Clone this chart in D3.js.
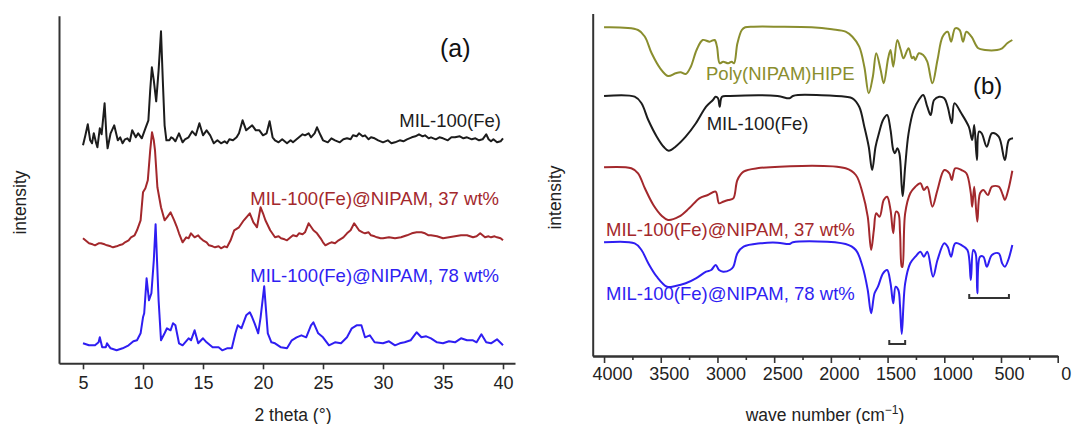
<!DOCTYPE html>
<html><head><meta charset="utf-8">
<script src="https://cdn.jsdelivr.net/npm/d3@7"></script>
<style>
html,body{margin:0;padding:0;background:#fff;}
svg{display:block;font-family:"Liberation Sans",Arial,Helvetica,sans-serif;}
</style></head><body>
<svg id="chart" width="1072" height="424"></svg>
<script>
// ---------- Panel (a): XRD ----------
const xrdTicks = [5, 10, 15, 20, 25, 30, 35, 40];
const xrdLabels = ["MIL-100(Fe)", "MIL-100(Fe)@NIPAM, 37 wt%", "MIL-100(Fe)@NIPAM, 78 wt%"];
const xrdMil = [[5.0,218],[5.2,228],[5.4,239],[5.6,223],[5.75,220],[5.9,230],[6.1,220],[6.2,216],[6.4,235],[6.55,229],[6.8,260],[6.95,228],[7.05,215],[7.3,230],[7.6,238],[7.9,223],[8.1,226],[8.3,220],[8.5,224],[8.7,225],[8.9,222],[9.1,233],[9.4,226],[9.6,230],[9.9,225],[10.2,235],[10.45,243],[10.6,273],[10.74,296],[10.9,283],[11.1,262],[11.3,293],[11.5,332],[11.65,283],[11.8,238],[11.95,223],[12.2,223],[12.35,226],[12.5,225],[12.7,222],[13.0,230],[13.3,221],[13.5,224],[13.8,226],[14.1,232],[14.4,228],[14.7,240],[15.0,228],[15.3,233],[15.6,228],[15.9,220],[16.2,223],[16.5,220],[16.8,222],[17.0,220],[17.2,224],[17.5,223],[17.8,226],[18.0,230],[18.3,243],[18.6,233],[18.9,236],[19.1,238],[19.4,233],[19.7,233],[20.0,228],[20.3,230],[20.55,242],[20.8,226],[21.0,223],[21.3,221],[21.6,224],[22.0,220],[22.3,223],[22.5,221],[22.8,224],[23.0,226],[23.3,229],[23.5,228],[23.8,230],[24.0,226],[24.3,230],[24.5,236],[24.8,228],[25.0,223],[25.4,221],[25.7,225],[26.0,223],[26.4,221],[26.7,224],[27.0,225],[27.3,224],[27.5,228],[27.8,227],[28.0,230],[28.3,227],[28.5,228],[28.8,224],[29.0,226],[29.3,225],[29.6,223],[30.0,221],[30.4,223],[30.7,220],[31.0,221],[31.4,223],[31.7,222],[32.0,224],[32.4,226],[32.7,227],[33.0,229],[33.3,227],[33.5,228],[33.8,225],[34.0,226],[34.4,224],[34.7,226],[35.0,225],[35.4,223],[35.7,226],[36.0,226],[36.4,227],[36.7,225],[37.0,226],[37.4,224],[37.7,225],[38.0,223],[38.3,224],[38.6,229],[38.8,224],[39.0,222],[39.2,224],[39.5,221],[39.8,222],[40.0,225]];
const xrdNipam37 = [[5.0,125],[5.3,122],[5.5,120],[5.8,119],[6.0,118],[6.3,120],[6.5,120],[6.8,119],[7.0,118],[7.3,117],[7.5,116],[7.8,117],[8.0,118],[8.3,119],[8.5,121],[8.8,123],[9.0,126],[9.3,128],[9.5,133],[9.8,143],[10.0,171],[10.2,175],[10.4,183],[10.6,213],[10.75,231],[10.9,223],[11.0,213],[11.2,176],[11.5,156],[11.8,143],[12.0,146],[12.3,151],[12.6,143],[12.8,137],[13.0,130],[13.3,121],[13.6,126],[13.8,125],[14.0,130],[14.3,126],[14.6,128],[14.8,125],[15.0,123],[15.3,121],[15.5,118],[15.8,117],[16.0,116],[16.3,117],[16.5,115],[16.8,117],[17.0,116],[17.3,123],[17.6,133],[18.0,136],[18.4,143],[18.9,150],[19.2,141],[19.5,136],[19.8,156],[20.0,150],[20.2,143],[20.6,133],[21.0,126],[21.3,127],[21.5,125],[21.8,124],[22.0,123],[22.3,126],[22.5,128],[22.8,127],[23.0,130],[23.3,129],[23.5,131],[23.8,140],[24.2,133],[24.5,130],[24.8,125],[25.0,121],[25.2,118],[25.5,120],[25.7,121],[26.0,120],[26.3,123],[26.7,126],[27.0,130],[27.3,133],[27.6,140],[28.0,133],[28.3,131],[28.5,130],[28.8,131],[29.0,128],[29.3,127],[29.5,126],[29.8,125],[30.0,125],[30.5,126],[31.0,125],[31.5,126],[32.0,128],[32.4,130],[32.8,131],[33.2,131],[33.5,130],[33.8,128],[34.0,128],[34.5,127],[35.0,125],[35.5,126],[36.0,127],[36.5,128],[37.0,128],[37.5,126],[37.8,127],[38.1,130],[38.5,126],[38.8,127],[39.0,126],[39.3,127],[39.5,126],[39.8,125],[40.0,123]];
const xrdNipam78 = [[5.0,20],[5.5,18],[6.0,18],[6.3,21],[6.4,26],[6.6,16],[6.9,16],[7.0,20],[7.3,15],[7.8,13],[8.3,15],[8.8,18],[9.2,22],[9.5,23],[9.8,30],[10.0,46],[10.1,50],[10.3,85],[10.5,63],[10.7,70],[10.9,103],[11.05,139],[11.3,63],[11.5,23],[11.8,30],[12.0,35],[12.3,33],[12.5,40],[12.7,38],[13.0,20],[13.3,18],[13.8,25],[14.0,23],[14.3,33],[14.6,20],[15.0,25],[15.3,21],[15.8,16],[16.3,16],[16.6,13],[17.0,15],[17.4,15],[17.7,30],[17.9,38],[18.2,35],[18.6,48],[18.9,51],[19.1,46],[19.3,40],[19.6,30],[19.8,46],[20.1,77],[20.4,30],[20.7,21],[21.0,20],[21.5,16],[22.0,15],[22.4,23],[22.8,26],[23.2,28],[23.6,26],[24.0,38],[24.2,41],[24.6,30],[25.0,26],[25.5,18],[26.0,21],[26.5,20],[27.0,26],[27.4,35],[27.8,38],[28.2,38],[28.5,26],[28.9,28],[29.3,21],[30.0,20],[30.5,22],[31.0,18],[31.4,20],[31.8,21],[32.3,23],[32.8,31],[33.2,26],[33.6,27],[34.0,25],[34.5,21],[35.0,20],[35.5,22],[36.0,21],[36.5,25],[37.0,23],[37.5,23],[37.8,21],[38.2,29],[38.6,21],[39.0,20],[39.5,24],[40.0,18]];

// ---------- Panel (b): FTIR ----------
const irMajorTicks = [4000, 3500, 3000, 2500, 2000, 1500, 1000, 500, 0];
const irMinorTicks = [3750, 3250, 2750, 2250, 1750, 1250, 750, 250];
const irLabels = ["Poly(NIPAM)HIPE", "MIL-100(Fe)", "MIL-100(Fe)@NIPAM, 37 wt%", "MIL-100(Fe)@NIPAM, 78 wt%"];
const irPolyHipe = [[4000,328.7],[3700,326],[3640,319.3],[3580,302.7],[3505,287.7],[3436,280],[3370,282.7],[3325,283.7],[3280,282],[3235,289.3],[3184,306],[3130,316],[3070,314.3],[3025,316],[3004,309.3],[2980,292.7],[2950,294.3],[2905,292.7],[2875,294.3],[2854,292.7],[2824,312.7],[2785,326],[2755,328.7],[2680,329.3],[2470,329.3],[2170,328.7],[1990,326.7],[1870,324.3],[1810,319.3],[1750,309.3],[1705,289.3],[1666,262.7],[1630,279.3],[1600,302.7],[1561,286],[1534,272.7],[1495,297.7],[1474,306],[1450,289.3],[1414,316],[1384,306],[1360,297.7],[1315,307.7],[1285,297.7],[1270,299.3],[1255,296],[1225,302.7],[1186,301],[1150,294.3],[1105,272.7],[1060,296],[1015,319.3],[970,324.3],[940,314.3],[904,327.7],[865,326],[835,314.3],[805,324.3],[760,319.3],[700,307.7],[640,306],[535,306],[490,307.7],[445,312.7],[400,316]];
const irMil = [[4000,260],[3730,259.3],[3670,252.7],[3610,236],[3535,219.3],[3475,209.3],[3430,205.3],[3370,209.3],[3280,219.3],[3190,232.7],[3100,249.3],[3040,256],[3016,259.3],[2995,257.7],[2980,249.3],[2960,259.3],[2890,260],[2470,260],[2365,257.7],[2335,260],[2290,261],[1870,259.3],[1810,257.7],[1750,249.3],[1705,229.3],[1666,209.3],[1636,186],[1606,209.3],[1576,222.7],[1540,236],[1504,241],[1474,226],[1450,206],[1435,202.7],[1414,207.7],[1396,202.7],[1375,169.3],[1366,160],[1345,189.3],[1315,222.7],[1270,246],[1225,256],[1186,261],[1150,249.3],[1120,241],[1090,256],[1045,259.3],[1000,257.7],[970,249.3],[934,232.7],[910,252.7],[850,242.7],[784,229.3],[754,216],[736,231],[712,196],[694,224.3],[670,222.7],[625,209.3],[580,222.7],[520,219.3],[466,196],[430,216],[394,217.7]];
const irNipam37 = [[4000,188.7],[3760,187.7],[3700,182.7],[3640,167.7],[3565,151],[3490,140],[3436,136],[3340,139.3],[3250,147.7],[3160,157.7],[3085,161],[3016,164.3],[2986,152.7],[2950,154.3],[2905,156],[2860,157.7],[2824,176],[2770,184.3],[2650,187.7],[1870,187.7],[1780,181],[1720,162.7],[1675,139.3],[1645,106],[1621,126],[1600,142.7],[1570,139.3],[1534,156],[1504,159.3],[1474,146],[1450,122.7],[1426,144.3],[1405,142.7],[1390,122.7],[1375,89.3],[1369,89],[1345,142.7],[1300,162.7],[1255,169.3],[1210,172.7],[1180,166],[1150,169.3],[1105,149.3],[1060,166],[1000,186],[955,182.7],[934,176],[904,187.7],[850,186],[805,182.7],[766,162.7],[754,149.3],[736,169.3],[709,134.3],[685,162.7],[655,166],[616,161],[580,169.3],[520,169.3],[484,161],[466,156],[436,166],[400,185.3]];
const irNipam78 = [[4000,113.7],[3730,112.7],[3670,106],[3610,92.7],[3535,79.3],[3445,69.3],[3370,70],[3280,72.7],[3190,77.7],[3100,84.3],[3055,86],[3016,91],[2986,86],[2950,84.3],[2890,86],[2860,89.3],[2824,102.7],[2770,109.3],[2620,112.7],[2470,113.3],[2365,112],[2335,113.7],[1870,112],[1780,106],[1720,89.3],[1675,66],[1645,42.7],[1615,62.7],[1585,69.3],[1540,82.7],[1504,86],[1474,72.7],[1450,52.7],[1429,69.3],[1405,66],[1390,49.3],[1375,22],[1345,72.7],[1300,92.7],[1255,99.3],[1210,104.3],[1180,99.3],[1150,104.3],[1099,79.3],[1060,96],[1000,112.7],[970,109.3],[940,99.3],[904,112.7],[850,111],[796,106],[766,76],[745,106],[724,102.7],[709,62.7],[685,99.3],[655,99.3],[625,89.3],[580,101],[520,102.7],[490,92.7],[466,89.3],[436,96],[400,111]];
const irBrackets = [[1485, 1345, 12], [780, 430, 58]];

const FONT = '"Liberation Sans", Arial, Helvetica, sans-serif';
const C_BLACK = "#1c1c1c", C_RED = "#a3282c", C_BLUE = "#2f1ef2", C_OLIVE = "#8a8e2e", C_AXIS = "#333";

const svg = d3.select("#chart");
svg.append("rect").attr("width", 1072).attr("height", 424).attr("fill", "#fff");

function styleAxis(g, fs) {
  g.select(".domain").attr("stroke", C_AXIS).attr("stroke-width", 2);
  g.selectAll(".tick line").attr("stroke", C_AXIS).attr("stroke-width", 1.6);
  g.selectAll(".tick text").attr("font-size", fs).attr("font-family", FONT).attr("fill", "#222");
}

// ===== Panel (a) =====
const xA = d3.scaleLinear().domain([3, 41]).range([59, 515]);
const yA = d3.scaleLinear().domain([0, 347.6]).range([363.3, 15.7]);

const gxA = svg.append("g").attr("transform", `translate(0,${yA(0)})`)
  .call(d3.axisBottom(xA).tickValues(xrdTicks).tickSize(6).tickSizeOuter(0).tickPadding(7));
styleAxis(gxA, 18);
const gyA = svg.append("g").attr("transform", `translate(${xA(3)},0)`)
  .call(d3.axisLeft(yA).tickValues([]).tickSizeOuter(0));
styleAxis(gyA, 18);

const lineA = d3.line().x(d => xA(d[0])).y(d => yA(d[1]));
[[xrdMil, C_BLACK], [xrdNipam37, C_RED], [xrdNipam78, C_BLUE]].forEach(([data, col]) => {
  svg.append("path").datum(data).attr("d", lineA).attr("fill", "none")
    .attr("stroke", col).attr("stroke-width", 2).attr("stroke-linejoin", "round");
});

svg.append("text").attr("x", 501).attr("y", 126.5).attr("text-anchor", "end")
  .attr("font-size", 18.5).attr("font-family", FONT).attr("fill", C_BLACK).text(xrdLabels[0]);
svg.append("text").attr("x", 499).attr("y", 205).attr("text-anchor", "end")
  .attr("font-size", 18.5).attr("font-family", FONT).attr("fill", C_RED).text(xrdLabels[1]);
svg.append("text").attr("x", 499).attr("y", 281.7).attr("text-anchor", "end")
  .attr("font-size", 18.5).attr("font-family", FONT).attr("fill", C_BLUE).text(xrdLabels[2]);
svg.append("text").attr("x", 440).attr("y", 56.5)
  .attr("font-size", 25).attr("font-family", FONT).attr("fill", "#111").text("(a)");

svg.append("text").attr("x", 293).attr("y", 421).attr("text-anchor", "middle")
  .attr("font-size", 17.5).attr("font-family", FONT).attr("fill", "#222").text("2 theta (°)");
svg.append("text").attr("transform", "translate(26,202.5) rotate(-90)").attr("text-anchor", "middle")
  .attr("font-size", 17.5).attr("font-family", FONT).attr("fill", "#222").text("intensity");

// ===== Panel (b) =====
const xB = d3.scaleLinear().domain([4100, 0]).range([592.7, 1057.7]);
const yB = d3.scaleLinear().domain([0, 342.5]).range([356, 13.5]);

const gxBminor = svg.append("g").attr("transform", `translate(0,${yB(0)})`)
  .call(d3.axisBottom(xB).tickValues(irMinorTicks).tickSize(4).tickSizeOuter(0).tickFormat(""));
styleAxis(gxBminor, 18);
const gxB = svg.append("g").attr("transform", `translate(0,${yB(0)})`)
  .call(d3.axisBottom(xB).tickValues(irMajorTicks).tickFormat(d3.format("d")).tickSize(7).tickSizeOuter(0).tickPadding(4));
styleAxis(gxB, 18);
gxB.selectAll(".tick text").attr("dx", 8);
const gyB = svg.append("g").attr("transform", `translate(${xB(4100)},0)`)
  .call(d3.axisLeft(yB).tickValues([]).tickSizeOuter(0));
styleAxis(gyB, 18);

const lineB = d3.line().x(d => xB(d[0])).y(d => yB(d[1])).curve(d3.curveCatmullRom.alpha(0.5));
[[irPolyHipe, C_OLIVE], [irMil, C_BLACK], [irNipam37, C_RED], [irNipam78, C_BLUE]].forEach(([data, col]) => {
  svg.append("path").datum(data).attr("d", lineB).attr("fill", "none")
    .attr("stroke", col).attr("stroke-width", 2).attr("stroke-linejoin", "round");
});

irBrackets.forEach(([a, b, lev]) => {
  const p = d3.path();
  p.moveTo(xB(a), yB(lev + 4)); p.lineTo(xB(a), yB(lev)); p.lineTo(xB(b), yB(lev)); p.lineTo(xB(b), yB(lev + 4));
  svg.append("path").attr("d", p.toString()).attr("fill", "none").attr("stroke", C_AXIS).attr("stroke-width", 2);
});

svg.append("text").attr("x", 706).attr("y", 80)
  .attr("font-size", 18.5).attr("font-family", FONT).attr("fill", C_OLIVE).text(irLabels[0]);
svg.append("text").attr("x", 706.7).attr("y", 130)
  .attr("font-size", 18.5).attr("font-family", FONT).attr("fill", C_BLACK).text(irLabels[1]);
svg.append("text").attr("x", 606).attr("y", 236)
  .attr("font-size", 18.5).attr("font-family", FONT).attr("fill", C_RED).text(irLabels[2]);
svg.append("text").attr("x", 606).attr("y", 299.5)
  .attr("font-size", 18.5).attr("font-family", FONT).attr("fill", C_BLUE).text(irLabels[3]);
svg.append("text").attr("x", 973).attr("y", 94)
  .attr("font-size", 24).attr("font-family", FONT).attr("fill", "#111").text("(b)");

const tB = svg.append("text").attr("x", 825).attr("y", 421).attr("text-anchor", "middle")
  .attr("font-size", 17.5).attr("font-family", FONT).attr("fill", "#222");
tB.append("tspan").text("wave number (cm");
tB.append("tspan").attr("font-size", 12).attr("dy", -7).text("\u22121");
tB.append("tspan").attr("dy", 7).text(")");
svg.append("text").attr("transform", "translate(561,197.5) rotate(-90)").attr("text-anchor", "middle")
  .attr("font-size", 17.5).attr("font-family", FONT).attr("fill", "#222").text("intensity");
</script>
</body></html>
